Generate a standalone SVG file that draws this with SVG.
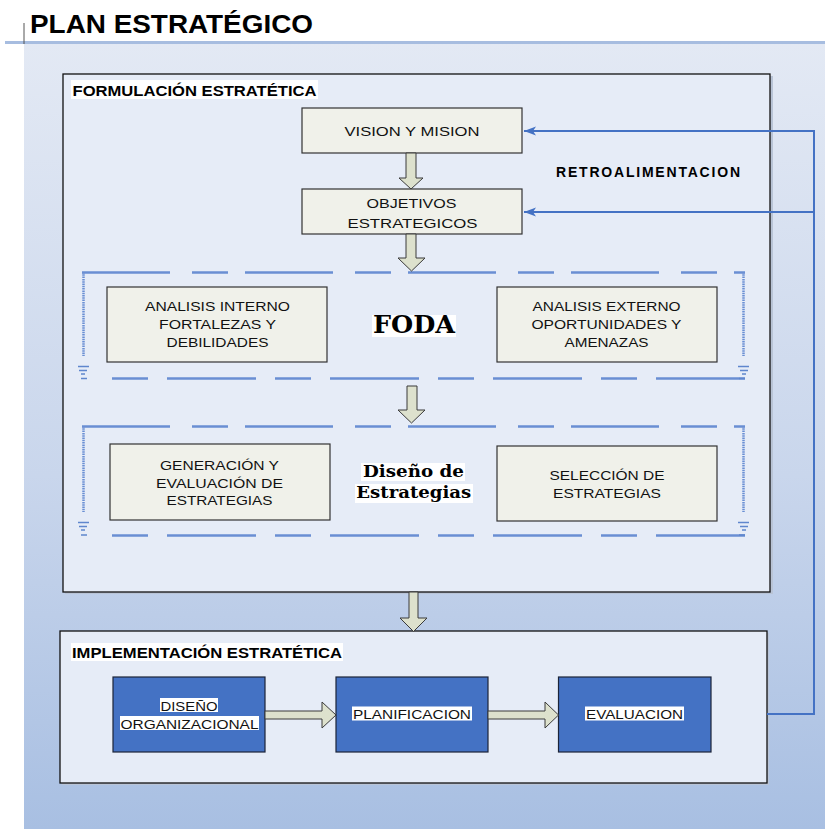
<svg xmlns="http://www.w3.org/2000/svg" width="825" height="829" viewBox="0 0 825 829">
<defs>
<linearGradient id="bg" x1="0" y1="0" x2="0" y2="1">
<stop offset="0" stop-color="#e3e9f4"/>
<stop offset="0.55" stop-color="#c9d6ec"/>
<stop offset="1" stop-color="#a8bfe2"/>
</linearGradient>
<marker id="ah" markerUnits="userSpaceOnUse" markerWidth="13" markerHeight="10" refX="12" refY="4.5" orient="auto">
<path d="M0,0 L12,4.5 L0,9 L3,4.5 Z" fill="#4472c4"/>
</marker>
<style>
.panel{fill:#e6ecf7;stroke:#111;stroke-width:1.3}
.shadow{fill:#b9c4d6}
.beige{fill:#f0f1ea;stroke:#333;stroke-width:1.2}
.blue{fill:#4472c4;stroke:#1b2338;stroke-width:1.2}
.blk{fill:#dde1cd;stroke:#3a3a3a;stroke-width:1}
.t{font-family:"Liberation Sans",Arial,sans-serif;font-size:13.5px;fill:#111;text-anchor:middle}
.tb{font-family:"Liberation Sans",Arial,sans-serif;font-weight:bold;font-size:14px;fill:#000}
.sf{font-family:"DejaVu Serif","Liberation Serif",serif;font-weight:bold;fill:#000;text-anchor:middle}
.hl{fill:#ffffff}
.dh{stroke:#6a8ed3;stroke-width:2.5;fill:none}
.dv{stroke:#6a8ed3;stroke-width:2.5;fill:none;stroke-dasharray:1.5 0.8}
.mk{stroke:#5f86cd;stroke-width:1.3;fill:none}
.fb{stroke:#4472c4;stroke-width:2;fill:none}
</style>
</defs>

<!-- page background -->
<rect x="0" y="0" width="825" height="829" fill="#ffffff"/>
<rect x="24" y="43" width="801" height="786" fill="url(#bg)"/>
<rect x="5" y="41" width="820" height="3" fill="#a7bde0"/>
<line x1="24" y1="23" x2="24" y2="44" stroke="#555" stroke-width="1"/>
<text x="30" y="33" font-family="'Liberation Sans',Arial,sans-serif" font-weight="bold" font-size="25.5" textLength="283" lengthAdjust="spacingAndGlyphs" fill="#000">PLAN ESTRATÉGICO</text>

<!-- Formulación panel -->
<g id="formulacion">
<rect class="shadow" x="65" y="76" width="708" height="518"/>
<rect class="panel" x="63" y="74" width="707" height="518"/>
<rect class="hl" x="71" y="80" width="247" height="19"/>
<text class="tb" x="72.5" y="95.5" textLength="244" lengthAdjust="spacingAndGlyphs">FORMULACIÓN ESTRATÉTICA</text>
</g>

<!-- Implementación panel -->
<g id="implementacion">
<rect class="shadow" x="62" y="633" width="707" height="152"/>
<rect class="panel" x="60" y="631" width="707" height="152"/>
<rect class="hl" x="71" y="643" width="272" height="18"/>
<text class="tb" x="72" y="658" textLength="270" lengthAdjust="spacingAndGlyphs">IMPLEMENTACIÓN ESTRATÉTICA</text>
</g>

<g id="vision">
<rect class="beige" x="302" y="108" width="220" height="45"/>
<text class="t" x="412" y="136" font-size="14" textLength="135" lengthAdjust="spacingAndGlyphs">VISION Y MISION</text>
</g>

<g id="objetivos">
<rect class="beige" x="302" y="189" width="220" height="45"/>
<text class="t" x="411.5" y="208" font-size="14" textLength="90" lengthAdjust="spacingAndGlyphs">OBJETIVOS</text>
<text class="t" x="412.5" y="227.5" font-size="14" textLength="130" lengthAdjust="spacingAndGlyphs">ESTRATEGICOS</text>
</g>

<g id="retroalimentacion-label">
<text class="tb" x="556" y="177" font-size="14" textLength="184" lengthAdjust="spacing">RETROALIMENTACION</text>
</g>

<!-- FODA group -->
<g id="foda">
<path class="dh" d="M82,272.5 H745" stroke-dasharray="88 22 36 17"/>
<path class="dh" d="M745,378.5 H110" stroke-dasharray="89 19 36 19"/>
<path class="dv" d="M83.5,272 V356"/>
<path class="dv" d="M743.5,272 V356"/>
<path class="mk" d="M78,366.5 H89 M79,370.5 H87 M81,374 H85 M81,378.5 H87"/>
<path class="mk" d="M738,366.5 H749 M740,370.5 H748 M742,374 H746 M739,378.5 H745"/>
<rect class="hl" x="372" y="315" width="84" height="22"/>
<text class="sf" x="414" y="333.3" font-size="24" textLength="82" lengthAdjust="spacingAndGlyphs">FODA</text>
</g>

<g id="analisis-interno">
<rect class="beige" x="107" y="287" width="220" height="75"/>
<text class="t" x="217.5" y="311" textLength="145" lengthAdjust="spacingAndGlyphs">ANALISIS INTERNO</text>
<text class="t" x="217.5" y="329" textLength="117" lengthAdjust="spacingAndGlyphs">FORTALEZAS Y</text>
<text class="t" x="217.5" y="347" textLength="102" lengthAdjust="spacingAndGlyphs">DEBILIDADES</text>
</g>

<g id="analisis-externo">
<rect class="beige" x="497" y="287" width="220" height="75"/>
<text class="t" x="606.5" y="311" textLength="148" lengthAdjust="spacingAndGlyphs">ANALISIS EXTERNO</text>
<text class="t" x="606.5" y="329" textLength="150" lengthAdjust="spacingAndGlyphs">OPORTUNIDADES Y</text>
<text class="t" x="606.5" y="347" textLength="84" lengthAdjust="spacingAndGlyphs">AMENAZAS</text>
</g>

<!-- Diseño de estrategias group -->
<g id="diseno-estrategias">
<path class="dh" d="M82,426.5 H745" stroke-dasharray="88 22 36 17"/>
<path class="dh" d="M745,535.5 H110" stroke-dasharray="89 19 36 19"/>
<path class="dv" d="M83.5,426 V512"/>
<path class="dv" d="M743.5,426 V512"/>
<path class="mk" d="M78,522.5 H89 M79,526.5 H87 M81,530 H85 M81,535 H87"/>
<path class="mk" d="M738,522.5 H749 M740,526.5 H748 M742,530 H746 M739,535 H745"/>
<rect class="hl" x="361" y="463" width="104" height="18"/>
<rect class="hl" x="355" y="484" width="118" height="19"/>
<text class="sf" x="413.5" y="476.5" font-size="17" textLength="101" lengthAdjust="spacingAndGlyphs">Diseño de</text>
<text class="sf" x="413.8" y="498" font-size="17" textLength="115" lengthAdjust="spacingAndGlyphs">Estrategias</text>
</g>

<g id="generacion">
<rect class="beige" x="110" y="444" width="220" height="76"/>
<text class="t" x="219.5" y="470" textLength="119" lengthAdjust="spacingAndGlyphs">GENERACIÓN Y</text>
<text class="t" x="219.5" y="487.5" textLength="127" lengthAdjust="spacingAndGlyphs">EVALUACIÓN DE</text>
<text class="t" x="219.5" y="505" textLength="106" lengthAdjust="spacingAndGlyphs">ESTRATEGIAS</text>
</g>

<g id="seleccion">
<rect class="beige" x="497" y="446" width="220" height="75"/>
<text class="t" x="607" y="479.5" textLength="115" lengthAdjust="spacingAndGlyphs">SELECCIÓN DE</text>
<text class="t" x="607" y="497.5" textLength="108" lengthAdjust="spacingAndGlyphs">ESTRATEGIAS</text>
</g>

<!-- Implementation boxes -->
<g id="diseno-organizacional">
<rect class="blue" x="113" y="677" width="152" height="75"/>
<rect class="hl" x="160" y="698" width="58" height="14"/>
<rect class="hl" x="120" y="716" width="139" height="14"/>
<text class="t" x="189" y="711" font-size="14" textLength="57" lengthAdjust="spacingAndGlyphs">DISEÑO</text>
<text class="t" x="189.5" y="729" font-size="14" textLength="138" lengthAdjust="spacingAndGlyphs">ORGANIZACIONAL</text>
</g>

<g id="planificacion">
<rect class="blue" x="336" y="677" width="152" height="75"/>
<rect class="hl" x="352" y="706.5" width="120" height="14"/>
<text class="t" x="412" y="719" font-size="14" textLength="118" lengthAdjust="spacingAndGlyphs">PLANIFICACION</text>
</g>

<g id="evaluacion">
<rect class="blue" x="558.5" y="677" width="152.5" height="75"/>
<rect class="hl" x="585" y="706.5" width="99" height="14"/>
<text class="t" x="634.5" y="719" font-size="14" textLength="97" lengthAdjust="spacingAndGlyphs">EVALUACION</text>
</g>

<!-- connectors -->
<g id="connectors">
<path class="blk" d="M406,153 H416 V178 H423 L411,189 L399,178 H406 Z"/>
<path class="blk" d="M406,234 H416 V258 H425 L411.5,271 L398,258 H406 Z"/>
<path class="blk" d="M407,386 H417 V410 H425 L411.5,423 L398,410 H407 Z"/>
<path class="blk" d="M409,592 H418 V618 H427 L413.5,631.5 L400,618 H409 Z"/>
<path class="blk" d="M265,711 H322 V702 L336,715 L322,728 V719 H265 Z"/>
<path class="blk" d="M488,711 H545 V702 L558.5,715 L545,728 V719 H488 Z"/>
<path class="fb" d="M767,714 H814 V131 H524" marker-end="url(#ah)"/>
<path class="fb" d="M814,212 H524" marker-end="url(#ah)"/>
</g>
</svg>
